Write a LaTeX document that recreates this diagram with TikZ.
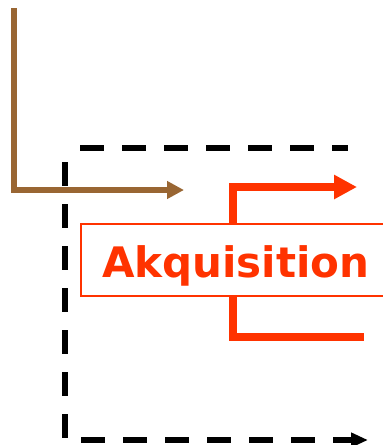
\documentclass[tikz,border=0pt]{standalone}
\usepackage{fontspec}
\newfontfamily\boxfont{DejaVu Sans}
\usetikzlibrary{arrows.meta}
\definecolor{brownline}{HTML}{996633}
\definecolor{redline}{HTML}{FF3300}
\tikzset{
  brownarrow/.style={draw=brownline, line width=6pt, -{Triangle[length=17pt,width=17pt]}},
  blackdash/.style={draw=black, line width=6.5pt, dash pattern=on 24pt off 18pt},
  redarrow/.style={draw=redline, line width=7.5pt},
  redbox/.style={draw=redline, line width=1.5pt, fill=white, minimum width=310pt, minimum height=72pt, inner sep=0pt,
    text height=40pt, text depth=6pt,
    text=redline, font=\boxfont\bfseries\fontsize{42}{50}\selectfont}
}
\begin{document}
\begin{tikzpicture}[x=1pt,y=-1pt]
\useasboundingbox (0,0) rectangle (383,445);
% black dashed frame
\coordinate (t1) at (80,148);
\coordinate (t2) at (348,148);
\coordinate (l1) at (65,162);
\coordinate (l2) at (65,440);
\coordinate (l3) at (368,440);
\draw[blackdash] (t1) -- (t2);
\draw[blackdash, -{Triangle[length=17pt,width=14pt]}] (l1) -- (l2) -- (l3);
% brown arrow
\coordinate (b1) at (14,8);
\coordinate (b2) at (14,190);
\coordinate (b3) at (184,190);
\draw[brownarrow] (b1) -- (b2) -- (b3);
% red box
\node[redbox, anchor=west] (box) at (80,260) {Akquisition};
\coordinate (r1) at (233,187);
\coordinate (r2) at (357,187);
\coordinate (r3) at (233,337);
\coordinate (r4) at (364,337);
\draw[redarrow, -{Triangle[length=23pt,width=23pt]}] (box.north -| r1) -- (r1) -- (r2);
\draw[redarrow] (box.south -| r3) -- (r3) -- (r4);
\end{tikzpicture}
\end{document}
